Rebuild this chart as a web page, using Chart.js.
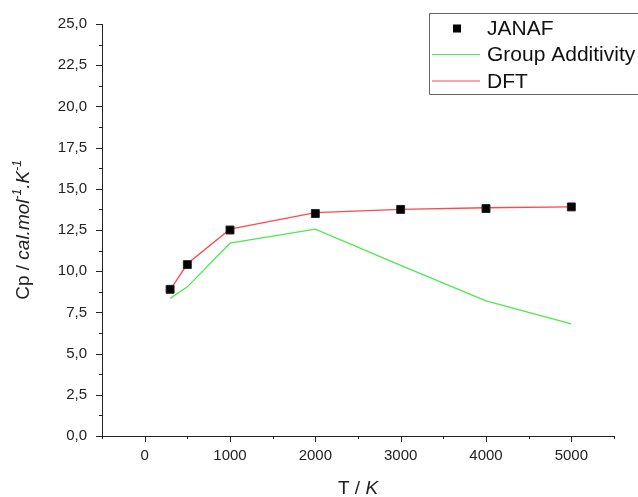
<!DOCTYPE html>
<html>
<head>
<meta charset="utf-8">
<script src="https://cdn.jsdelivr.net/npm/chart.js@4.4.0/dist/chart.umd.min.js"></script>
<style>
  html, body { margin: 0; padding: 0; background: #ffffff; overflow: hidden; }
  #wrap { width: 638px; height: 497px; position: relative; }
</style>
</head>
<body>
<div id="wrap"><canvas id="c" width="638" height="497"></canvas></div>
<script>
// ---- data ----
const temperatures = [298, 500, 1000, 2000, 3000, 4000, 5000];
const janafCp = [8.9, 10.4, 12.5, 13.5, 13.75, 13.8, 13.9];
const groupAdditivityCp = [8.35, 9.05, 11.7, 12.55, 10.35, 8.2, 6.8];
const dftCp = [8.85, 10.45, 12.55, 13.55, 13.75, 13.85, 13.9];
const seriesNames = ['JANAF', 'Group Additivity', 'DFT'];
const xTickLabels = [0, 1000, 2000, 3000, 4000, 5000];
const yTickLabels = [0, 2.5, 5, 7.5, 10, 12.5, 15, 17.5, 20, 22.5, 25];

const FONT = '"Liberation Sans", Arial, sans-serif';
const toXY = (xs, ys) => xs.map((x, i) => ({ x: x, y: ys[i] }));
const isMajorX = v => xTickLabels.some(t => Math.abs(t - v) < 1e-6);
const isMajorY = v => yTickLabels.some(t => Math.abs(t - v) < 1e-6);

const decorPlugin = {
  id: 'decor',
  afterDraw(chart) {
    const ctx = chart.ctx;
    const xs = chart.scales.x, ys = chart.scales.y;
    const area = chart.chartArea;
    ctx.save();
    ctx.strokeStyle = '#222';
    ctx.lineWidth = 1;
    xs.ticks.forEach(t => {
      const px = Math.round(xs.getPixelForValue(t.value)) + 0.5;
      const len = isMajorX(t.value) ? 6 : 3;
      ctx.beginPath();
      ctx.moveTo(px, area.bottom);
      ctx.lineTo(px, area.bottom + len);
      ctx.stroke();
    });
    ys.ticks.forEach(t => {
      const py = Math.round(ys.getPixelForValue(t.value)) + 0.5;
      const len = isMajorY(t.value) ? 6 : 3;
      ctx.beginPath();
      ctx.moveTo(area.left, py);
      ctx.lineTo(area.left - len, py);
      ctx.stroke();
    });

    // ---- axis titles ----
    ctx.fillStyle = '#222';
    ctx.textBaseline = 'alphabetic';
    const partsX = [
      { t: 'T / ', f: '19px ' + FONT, dy: 0 },
      { t: 'K', f: 'italic 19px ' + FONT, dy: 0 }
    ];
    let wX = 0;
    partsX.forEach(p => { ctx.font = p.f; p.w = ctx.measureText(p.t).width; wX += p.w; });
    let cx = (area.left + area.right) / 2 - wX / 2;
    partsX.forEach(p => { ctx.font = p.f; ctx.fillText(p.t, cx, 494 + p.dy); cx += p.w; });

    const partsY = [
      { t: 'Cp / ', f: '19px ' + FONT, dy: 0 },
      { t: 'cal.mol', f: 'italic 19px ' + FONT, dy: 0 },
      { t: '-1', f: 'italic 12px ' + FONT, dy: -8 },
      { t: '.K', f: 'italic 19px ' + FONT, dy: 0 },
      { t: '-1', f: 'italic 12px ' + FONT, dy: -8 }
    ];
    let wY = 0;
    partsY.forEach(p => { ctx.font = p.f; p.w = ctx.measureText(p.t).width; wY += p.w; });
    ctx.save();
    ctx.translate(29, (area.top + area.bottom) / 2);
    ctx.rotate(-Math.PI / 2);
    let cy = -wY / 2;
    partsY.forEach(p => { ctx.font = p.f; ctx.fillText(p.t, cy, p.dy); cy += p.w; });
    ctx.restore();

    // ---- legend (box runs off the right edge) ----
    const lx = 429.5, ly = 13.5, lb = 94.5;
    ctx.fillStyle = '#ffffff';
    ctx.fillRect(lx, ly, 220, lb - ly);
    ctx.strokeStyle = '#666';
    ctx.lineWidth = 1;
    ctx.beginPath();
    ctx.moveTo(700, ly); ctx.lineTo(lx, ly); ctx.lineTo(lx, lb); ctx.lineTo(700, lb);
    ctx.stroke();
    const rows = [28.5, 54.5, 81];
    ctx.fillStyle = '#000';
    ctx.fillRect(453, rows[0] - 4, 8, 8);
    const ds = chart.data.datasets;
    ctx.lineWidth = 1.2;
    ctx.strokeStyle = ds[1].borderColor;
    ctx.beginPath(); ctx.moveTo(432, rows[1]); ctx.lineTo(480, rows[1]); ctx.stroke();
    ctx.strokeStyle = ds[0].borderColor;
    ctx.beginPath(); ctx.moveTo(432, rows[2]); ctx.lineTo(480, rows[2]); ctx.stroke();
    ctx.fillStyle = '#111';
    ctx.font = '21px ' + FONT;
    ctx.textBaseline = 'middle';
    ctx.fillText(seriesNames[0], 487, rows[0] + 1);
    ctx.fillText(seriesNames[1], 487, rows[1] + 1);
    ctx.fillText(seriesNames[2], 487, rows[2] + 1);
    ctx.restore();
  }
};

new Chart(document.getElementById('c'), {
  type: 'scatter',
  data: {
    datasets: [
      {
        label: seriesNames[2],
        data: toXY(temperatures, dftCp),
        showLine: true,
        borderColor: '#ff4a4a',
        borderWidth: 1.3,
        pointRadius: 0,
        tension: 0,
        order: 2
      },
      {
        label: seriesNames[1],
        data: toXY(temperatures, groupAdditivityCp),
        showLine: true,
        borderColor: '#4ee84e',
        borderWidth: 1.3,
        pointRadius: 0,
        tension: 0,
        order: 3
      },
      {
        label: seriesNames[0],
        data: toXY(temperatures, janafCp),
        showLine: false,
        pointStyle: 'rect',
        pointRadius: 5.6,
        pointBackgroundColor: '#000',
        pointBorderColor: '#222',
        pointBorderWidth: 1,
        order: 1
      }
    ]
  },
  options: {
    responsive: false,
    animation: false,
    devicePixelRatio: 1,
    layout: { padding: { top: 24, right: 24, left: 0, bottom: 0 } },
    plugins: { legend: { display: false }, tooltip: { enabled: false } },
    scales: {
      x: {
        type: 'linear',
        min: -500,
        max: 5500,
        afterFit: s => { s.height = 61; },
        afterBuildTicks: s => {
          const t = [];
          for (let v = -500; v <= 5500; v += 500) t.push({ value: v });
          s.ticks = t;
        },
        grid: { display: false, drawTicks: false },
        border: { display: true, color: '#222', width: 1 },
        ticks: {
          autoSkip: false,
          maxRotation: 0,
          padding: 11,
          color: '#222',
          font: { family: FONT, size: 15 },
          callback: v => (isMajorX(v) ? String(v) : '')
        }
      },
      y: {
        type: 'linear',
        min: 0,
        max: 25,
        afterFit: s => { s.width = 102; },
        afterBuildTicks: s => {
          const t = [];
          for (let i = 0; i <= 20; i++) t.push({ value: i * 1.25 });
          s.ticks = t;
        },
        grid: { display: false, drawTicks: false },
        border: { display: true, color: '#222', width: 1 },
        ticks: {
          autoSkip: false,
          padding: 15,
          color: '#222',
          font: { family: FONT, size: 15 },
          callback: v => (isMajorY(v) ? v.toFixed(1).replace('.', ',') : '')
        }
      }
    }
  },
  plugins: [decorPlugin]
});
</script>
</body>
</html>
